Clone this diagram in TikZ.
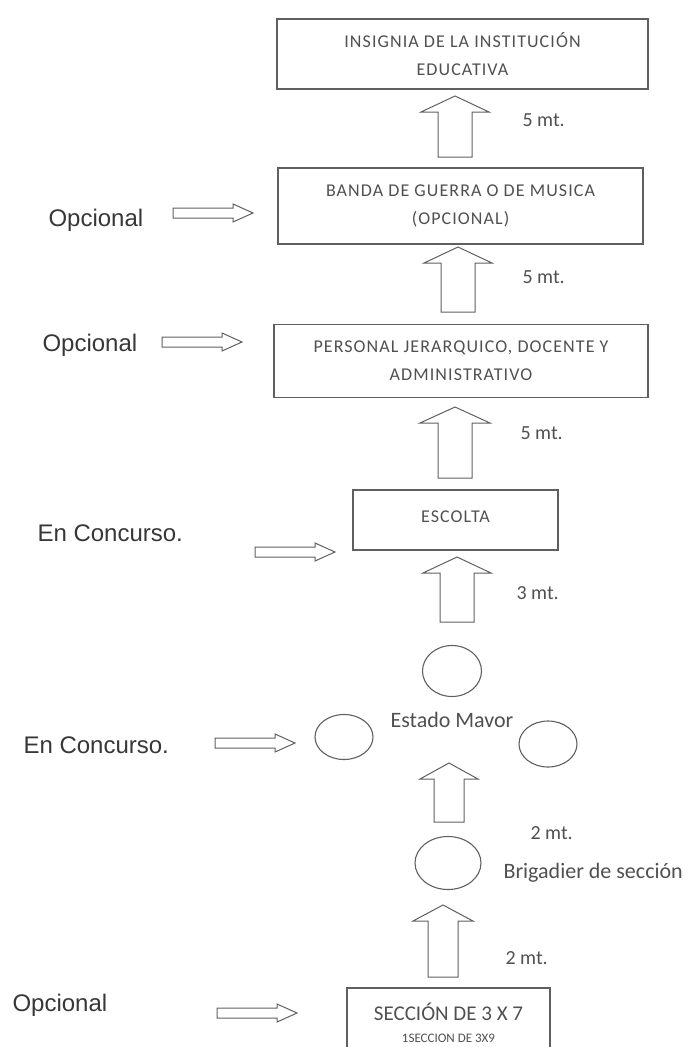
\documentclass[tikz,border=0pt]{standalone}
\usepackage{fontspec}
\setmainfont{Carlito}
\newfontfamily\boxfont{Carlito}[LetterSpace=6]
\newfontfamily\labelfont{Liberation Sans}
\usetikzlibrary{shapes.geometric,calc}

\definecolor{inkgray}{RGB}{95,95,95}
\definecolor{textgray}{RGB}{80,80,80}
\definecolor{labelgray}{RGB}{55,55,55}

\tikzset{every picture/.style={line width=1.1pt}}
\tikzset{
  box/.style={draw=inkgray, rectangle, align=center, text=textgray, font=\boxfont\fontsize{18}{28}\selectfont},
  oval/.style={draw=inkgray, ellipse, inner sep=0pt},
  blockline/.style={draw=inkgray, line width=1pt, line join=miter},
  sidelabel/.style={text=labelgray, anchor=base west, inner sep=0pt, font=\labelfont\fontsize{24}{28}\selectfont},
  dist/.style={text=textgray, anchor=west, inner sep=0pt, font=\fontsize{20}{24}\selectfont},
}

\newcommand{\blockup}[4]{%
  \draw[blockline] let \p1=#1, \p2=#2 in
    (\x1-#4pt,\y1) -- (\x1+#4pt,\y1) -- (\x1+#4pt,\y2-16pt) -- (\x1+#3pt,\y2-16pt)
    -- (\x1,\y2) -- (\x1-#3pt,\y2-16pt) -- (\x1-#4pt,\y2-16pt) -- cycle;}
\newcommand{\blockright}[2]{%
  \draw[blockline] let \p1=#1, \p2=#2 in
    (\x1,\y1-5pt) -- (\x2-20pt,\y1-5pt) -- (\x2-20pt,\y1-9pt) -- (\x2,\y1)
    -- (\x2-20pt,\y1+9pt) -- (\x2-20pt,\y1+5pt) -- (\x1,\y1+5pt) -- cycle;}

\begin{document}
\begin{tikzpicture}[x=1pt, y=-1pt]
    \useasboundingbox (0,0) rectangle (696,1047);

    \node[box, minimum width=371pt, minimum height=70pt] (insignia) at (462.5,54) {INSIGNIA DE LA INSTITUCIÓN\\EDUCATIVA};
    \node[box, minimum width=365pt, minimum height=76pt] (banda) at (460.5,206) {BANDA DE GUERRA O DE MUSICA\\(OPCIONAL)};
    \node[box, minimum width=374pt, minimum height=73pt] (personal) at (461,361) {PERSONAL JERARQUICO, DOCENTE Y\\ADMINISTRATIVO};
    \node[box, minimum width=205pt, minimum height=60pt] (escolta) at (455.5,520) {\raisebox{7pt}{ESCOLTA}};
    \node[box, minimum width=203pt, minimum height=70pt, inner sep=1pt, font=\fontsize{21}{22}\selectfont] (seccion) at (448.5,1023) {SECCIÓN DE 3 X 7\\{\fontsize{13}{13}\selectfont 1SECCION DE 3X9}};

    \node[oval, minimum width=59pt, minimum height=51pt] (emtop) at (452,671) {};
    \node[oval, minimum width=58pt, minimum height=45pt] (emleft) at (344,737) {};
    \node[oval, minimum width=58pt, minimum height=46pt] (emright) at (548,744) {};
    \node[oval, minimum width=66pt, minimum height=53pt] (brigadier) at (448,863) {};
    \node[text=textgray, font=\fontsize{22}{24}\selectfont] (estado) at (452,720) {Estado Mavor};
    \node[dist, font=\fontsize{22}{24}\selectfont] (brigtxt) at (503,873) {Brigadier de sección};

    \node[dist] (d1) at (522,120) {5 mt.};
    \node[dist] (d2) at (522,277) {5 mt.};
    \node[dist] (d3) at (520,433) {5 mt.};
    \node[dist] (d4) at (516,593) {3 mt.};
    \node[dist] (d5) at (530,833) {2 mt.};
    \node[dist] (d6) at (505,958) {2 mt.};

    \node[sidelabel] (opc1) at (48,226) {Opcional};
    \node[sidelabel] (opc2) at (42,351) {Opcional};
    \node[sidelabel] (conc1) at (37,541) {En Concurso.};
    \node[sidelabel] (conc2) at (23,753) {En Concurso.};
    \node[sidelabel] (opc3) at (12,1011) {Opcional};

    \coordinate (u1s) at (455,157); \coordinate (u1t) at (455,96);
    \coordinate (u2s) at (458,312); \coordinate (u2t) at (458,247);
    \coordinate (u3s) at (455,478); \coordinate (u3t) at (455,407);
    \coordinate (u4s) at (457,622); \coordinate (u4t) at (457,557);
    \coordinate (u5s) at (449,822); \coordinate (u5t) at (449,763);
    \coordinate (u6s) at (443,977); \coordinate (u6t) at (443,905);
    \blockup{(u1s)}{(u1t)}{34}{17}
    \blockup{(u2s)}{(u2t)}{34}{17}
    \blockup{(u3s)}{(u3t)}{35}{17}
    \blockup{(u4s)}{(u4t)}{34}{17}
    \blockup{(u5s)}{(u5t)}{29}{15}
    \blockup{(u6s)}{(u6t)}{30}{15}

    \coordinate (r1s) at (173,213); \coordinate (r1t) at (253,213);
    \coordinate (r2s) at (162,342); \coordinate (r2t) at (242,342);
    \coordinate (r3s) at (255,552); \coordinate (r3t) at (335,552);
    \coordinate (r4s) at (215,743); \coordinate (r4t) at (295,743);
    \coordinate (r5s) at (217,1013); \coordinate (r5t) at (297,1013);
    \blockright{(r1s)}{(r1t)}
    \blockright{(r2s)}{(r2t)}
    \blockright{(r3s)}{(r3t)}
    \blockright{(r4s)}{(r4t)}
    \blockright{(r5s)}{(r5t)}
\end{tikzpicture}
\end{document}
